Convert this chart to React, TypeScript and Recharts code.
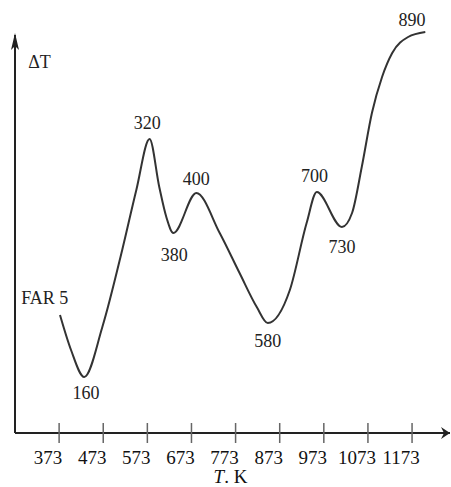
import React from "react";
import { ComposedChart, Line, Scatter, XAxis, YAxis, ReferenceLine, ReferenceDot } from "recharts";

// DTA curve (T in K, dT in arbitrary units)
const curveT = [375, 400, 430, 471, 516, 548, 578, 600, 616, 632, 684, 737, 782, 821, 846, 896, 934, 957, 1014, 1037, 1059, 1082, 1105, 1128, 1164, 1203];
const curveDT = [118, 83, 56, 106, 183, 243, 294, 246, 216, 200, 240, 200, 160, 126, 110, 143, 210, 241, 206, 220, 266, 320, 356, 380, 396, 401];

const xTicks = [373, 473, 573, 673, 773, 873, 973, 1073, 1173];

// annotations placed next to the peaks / valleys
const noteText = ["320", "400", "380", "160", "580", "700", "730", "890", "FAR 5", "\u0394T"];
const noteT = [573, 684, 634, 434, 846, 952, 1014, 1173, 287, 303];
const noteDT = [310, 254, 178, 40, 92, 257, 186, 413, 135, 371];
const noteAnchor = ["middle", "middle", "middle", "middle", "middle", "middle", "middle", "middle", "start", "start"];

const curve = curveT.map((t, i) => ({ T: t, dT: curveDT[i] }));
const notes = noteText.map((s, i) => ({ T: noteT[i], dT: noteDT[i], text: s, anchor: noteAnchor[i] }));

const FONT = "'Liberation Serif', 'Times New Roman', serif";

const AxisTick = ({ x, y, payload }: any) => (
  <g>
    <line x1={x} x2={x} y1={y - 10} y2={y + 10} stroke="#666" strokeWidth={1.5} />
    <text x={x - 11} y={y + 31} textAnchor="middle" fontFamily={FONT} fontSize={19} fill="#111">
      {payload.value}
    </text>
  </g>
);

const NoteShape = ({ cx, cy, payload }: any) => (
  <text x={cx} y={cy + 6} textAnchor={payload.anchor} fontFamily={FONT} fontSize={18} fill="#222">
    {payload.text}
  </text>
);

const AxisTitle = ({ viewBox }: any) => (
  <text x={viewBox.x + viewBox.width / 2 - 2} y={viewBox.y + 50} textAnchor="middle" fontFamily={FONT} fontSize={19} fill="#111">
    <tspan fontStyle="italic">T</tspan>
    <tspan>. K</tspan>
  </text>
);

const RightArrow = ({ cx, cy }: any) => (
  <path d={`M${cx},${cy} L${cx - 9},${cy - 6} L${cx - 6},${cy} L${cx - 9},${cy + 6} Z`} fill="#222" />
);

const UpArrow = ({ cx, cy }: any) => (
  <path d={`M${cx},${cy} L${cx - 4},${cy + 17} L${cx},${cy + 13} L${cx + 4},${cy + 17} Z`} fill="#222" />
);

export default function App() {
  return (
    <div>
      <style>{"body{margin:0}"}</style>
      <ComposedChart width={451} height={487} margin={{ top: 0, right: 1, bottom: 0, left: 15 }}>
        <XAxis
          type="number"
          dataKey="T"
          domain={[273, 1259]}
          ticks={xTicks}
          tick={<AxisTick />}
          tickLine={false}
          tickSize={0}
          tickMargin={0}
          height={54}
          axisLine={{ stroke: "#222", strokeWidth: 2 }}
          label={<AxisTitle />}
          allowDataOverflow
        />
        <YAxis type="number" dataKey="dT" domain={[0, 433]} hide allowDataOverflow />
        <ReferenceLine
          segment={[{ x: 273, y: 0 }, { x: 273, y: 398 }]}
          stroke="#222"
          strokeWidth={2}
          ifOverflow="visible"
        />
        <ReferenceDot x={1259} y={0} r={0} shape={<RightArrow />} ifOverflow="visible" />
        <ReferenceDot x={273} y={400} r={0} shape={<UpArrow />} ifOverflow="visible" />
        <Line
          data={curve}
          dataKey="dT"
          type="monotone"
          stroke="#333"
          strokeWidth={2}
          dot={false}
          isAnimationActive={false}
        />
        <Scatter data={notes} dataKey="dT" shape={<NoteShape />} isAnimationActive={false} />
      </ComposedChart>
    </div>
  );
}
